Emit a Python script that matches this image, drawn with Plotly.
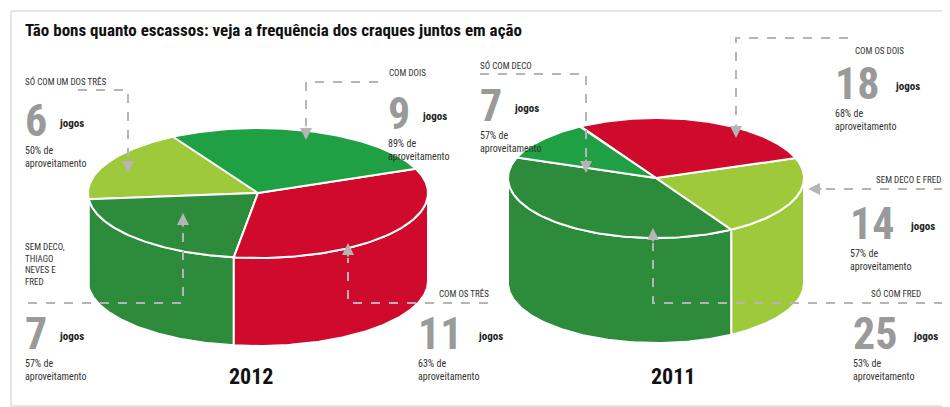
import numpy as np
import plotly.graph_objects as go

TITLE = "Tão bons quanto escassos: veja a frequência dos craques juntos em ação"

# 2012 slices (counter-clockwise from start angle)
labels_2012 = ["Só com um dos três", "Sem Deco, Thiago Neves e Fred", "Com os três", "Com dois"]
games_2012 = [6, 7, 11, 9]
pct_2012 = [50, 57, 63, 89]
colors_2012 = ["#9dc93b", "#2d8c3c", "#cf0a2c", "#1fa045"]

# 2011 slices
labels_2011 = ["Só com Fred", "Sem Deco e Fred", "Com os dois", "Só com Deco"]
games_2011 = [25, 14, 18, 7]
pct_2011 = [53, 57, 68, 57]
colors_2011 = ["#2d8c3c", "#9dc93b", "#cf0a2c", "#1fa045"]

GRAY = "#9a9a9a"


def pie3d(fig, values, colors, cx, cy, rx, ry, depth, start):
    total = sum(values)
    angles = [start]
    for v in values:
        angles.append(angles[-1] + 360.0 * v / total)
    # sides (front half only)
    for i, col in enumerate(colors):
        a0, a1 = angles[i], angles[i + 1]
        t = np.radians(np.linspace(a0, a1, 120))
        t = t[np.sin(t) <= 0.001]
        if len(t) < 2:
            continue
        xs = cx + rx * np.cos(t)
        ys = cy - ry * np.sin(t)
        px_ = np.concatenate([xs, xs[::-1], xs[:1]])
        py_ = np.concatenate([ys, ys[::-1] + depth, ys[:1]])
        fig.add_trace(go.Scatter(x=px_, y=py_, fill="toself", fillcolor=col, mode="lines",
                                 line=dict(color="white", width=2), hoverinfo="skip"))
    # tops
    for i, col in enumerate(colors):
        t = np.radians(np.linspace(angles[i], angles[i + 1], 120))
        xs = np.concatenate([[cx], cx + rx * np.cos(t), [cx]])
        ys = np.concatenate([[cy], cy - ry * np.sin(t), [cy]])
        fig.add_trace(go.Scatter(x=xs, y=ys, fill="toself", fillcolor=col, mode="lines",
                                 line=dict(color="white", width=2), hoverinfo="skip"))


fig = go.Figure()
pie3d(fig, games_2012, colors_2012, 250, 185, 170, 65, 88, 120)
pie3d(fig, games_2011, colors_2011, 648, 170, 148, 60, 105, 160)

ann = []


def txt(x, y, s, size=10, color="#333", bold=False, anchor="left", yanchor="top"):
    if bold:
        s = "<b>" + s + "</b>"
    ann.append(dict(x=x, y=y, text=s, showarrow=False, xanchor=anchor, yanchor=yanchor,
                    align=anchor if anchor != "center" else "center",
                    font=dict(size=size, color=color, family="Roboto Condensed, Roboto, Arial")))


def block(x, y, n, pct):
    txt(x, y, str(n), size=44, color=GRAY, bold=True, yanchor="top")
    w = 26 * len(str(n))
    txt(x + w + 8, y + 22, "jogos", size=11, color="#222", bold=True)
    txt(x, y + 50, f"{pct}% de<br>aproveitamento", size=10)


def connector(pts, head):
    xs = [p[0] for p in pts]
    ys = [p[1] for p in pts]
    fig.add_trace(go.Scatter(x=xs, y=ys, mode="lines", hoverinfo="skip",
                             line=dict(color="#b5b5b5", width=2, dash="dash")))
    ann.append(dict(x=head[0], y=head[1], ax=pts[-1][0], ay=pts[-1][1], axref="x", ayref="y",
                    xref="x", yref="y", showarrow=True, arrowhead=2, arrowsize=1.2,
                    arrowwidth=2, arrowcolor="#b5b5b5", text=""))


# 2012 labels
txt(15, 66, "SÓ COM UM DOS TRÊS", size=9)
connector([(70, 82), (120, 82), (120, 150)], (120, 165))
block(15, 85, games_2012[0], pct_2012[0])

txt(420, 58, "COM DOIS", size=9, anchor="right")
connector([(370, 74), (298, 74), (298, 118)], (298, 132))
block(378, 78, games_2012[3], pct_2012[3])

txt(15, 232, "SEM DECO,<br>THIAGO<br>NEVES E<br>FRED", size=9)
connector([(20, 295), (175, 295), (175, 220)], (175, 205))
block(15, 298, games_2012[1], pct_2012[1])

txt(483, 278, "COM OS TRÊS", size=9, anchor="right")
connector([(480, 295), (340, 295), (340, 250)], (340, 235))
block(408, 298, games_2012[2], pct_2012[2])

# 2011 labels
txt(470, 50, "SÓ COM DECO", size=9)
connector([(472, 66), (578, 66), (578, 150)], (578, 165))
block(470, 70, games_2011[3], pct_2011[3])

txt(898, 36, "COM OS DOIS", size=9, anchor="right")
connector([(840, 30), (728, 30), (728, 115)], (728, 130))
block(825, 48, games_2011[2], pct_2011[2])

txt(935, 165, "SEM DECO E FRED", size=9, anchor="right")
connector([(935, 181), (815, 181)], (800, 181))
block(840, 188, games_2011[1], pct_2011[1])

txt(915, 278, "SÓ COM FRED", size=9, anchor="right")
connector([(935, 295), (645, 295), (645, 235)], (645, 220))
block(843, 298, games_2011[0], pct_2011[0])

# years and title
txt(243, 368, "2012", size=22, color="#111", bold=True, anchor="center", yanchor="middle")
txt(665, 368, "2011", size=22, color="#111", bold=True, anchor="center", yanchor="middle")
txt(15, 22, TITLE, size=17, color="#111", bold=True, yanchor="middle")

fig.update_layout(
    width=950, height=407, margin=dict(l=0, r=0, t=0, b=0),
    paper_bgcolor="white", plot_bgcolor="white", showlegend=False,
    xaxis=dict(range=[0, 950], visible=False, fixedrange=True),
    yaxis=dict(range=[407, 0], visible=False, fixedrange=True),
    annotations=ann,
    shapes=[dict(type="rect", xref="x", yref="y", x0=3, y0=3, x1=947, y1=398,
                 line=dict(color="#cccccc", width=1))],
)
fig.write_html("out.html")
